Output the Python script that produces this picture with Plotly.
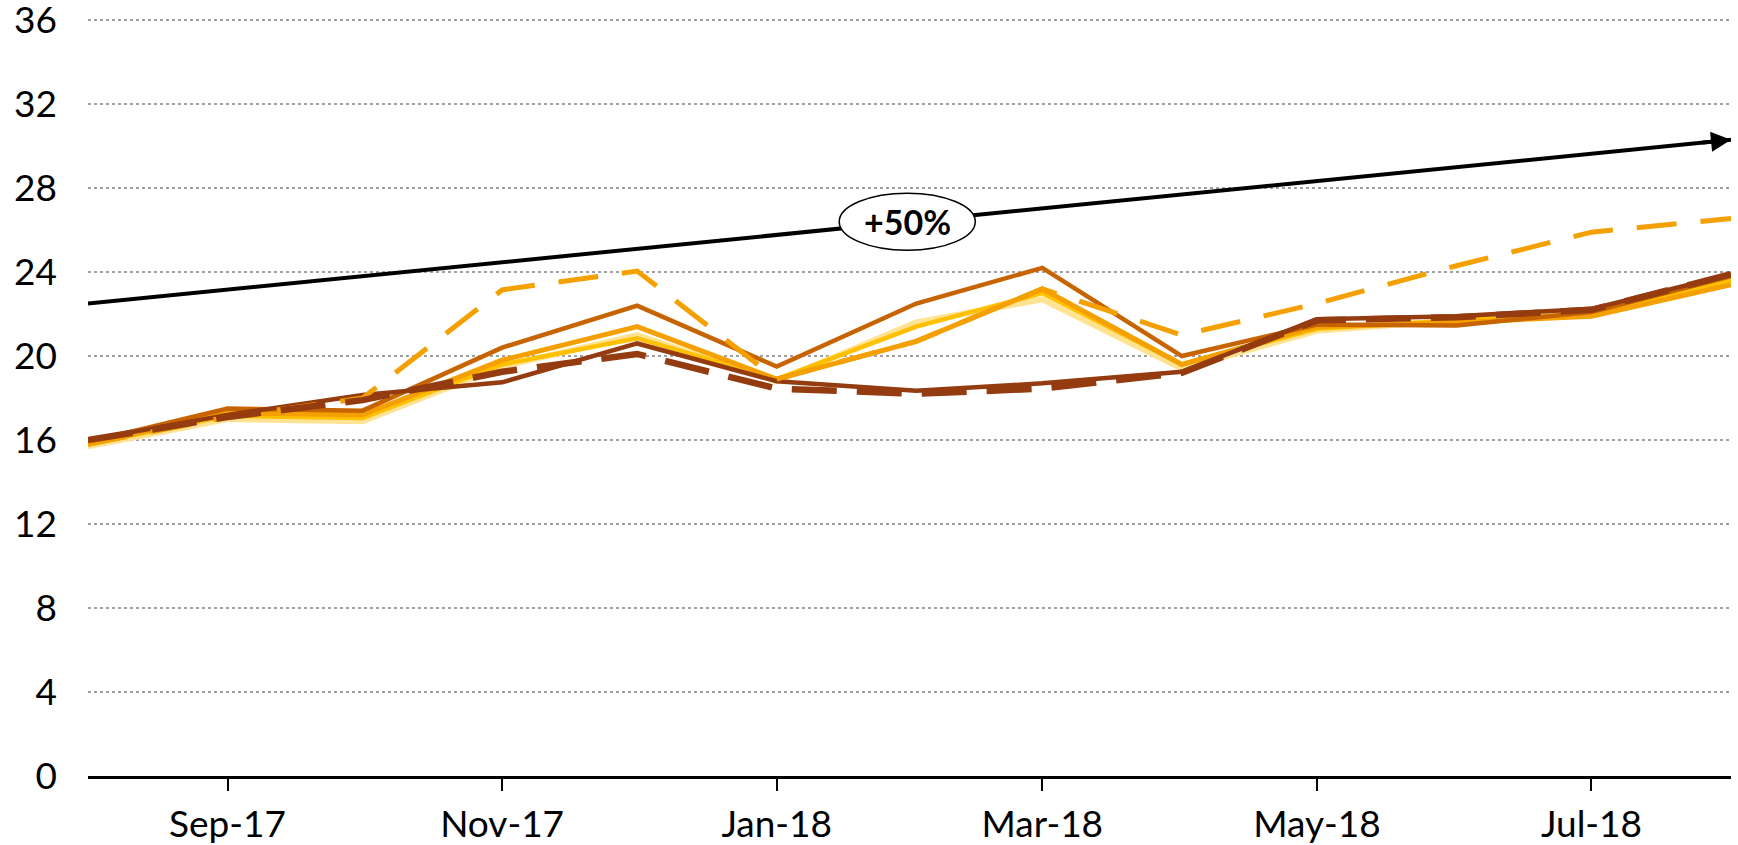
import plotly.graph_objects as go

months = ["2017-08-01", "2017-09-01", "2017-10-01", "2017-11-01", "2017-12-01",
          "2018-01-01", "2018-02-01", "2018-03-01", "2018-04-01", "2018-05-01",
          "2018-06-01", "2018-07-01", "2018-08-01"]

pale_vals = [15.7, 17.0, 16.9, 19.5, 21.0, 18.8, 21.6, 22.7, 19.4, 21.2, 21.7, 22.0, 23.6]
yellow_vals = [15.8, 17.15, 17.05, 19.6, 20.85, 18.9, 21.4, 23.0, 19.6, 21.3, 21.7, 22.0, 23.6]
orange_vals = [15.8, 17.3, 17.2, 19.8, 21.4, 18.9, 20.7, 23.2, 19.6, 21.4, 21.6, 21.9, 23.4]
darkorange_vals = [15.9, 17.5, 17.4, 20.4, 22.4, 19.5, 22.5, 24.2, 20.0, 21.5, 21.45, 22.1, 23.8]
brown_vals = [16.0, 17.2, 18.15, 18.75, 20.6, 18.8, 18.35, 18.7, 19.25, 21.75, 21.9, 22.25, 23.9]
orange_dash_vals = [15.8, 17.1, 18.0, 23.15, 24.05, 18.9, 20.7, 23.2, 21.0, 22.5, 24.3, 25.9, 26.55]
brown_dash_vals = [16.0, 17.1, 17.9, 19.25, 20.1, 18.45, 18.2, 18.45, 19.2, 21.7, 21.85, 22.2, 23.9]

trend_dates = ["2017-08-01", "2018-08-01"]
trend_vals = [22.5, 30.3]
label_date = "2018-01-30"
label_val = 26.4
label_text = "+50%"

x_tickvals = ["2017-09-01", "2017-11-01", "2018-01-01", "2018-03-01", "2018-05-01", "2018-07-01"]
x_ticktext = ["Sep-17", "Nov-17", "Jan-18", "Mar-18", "May-18", "Jul-18"]
y_tickvals = [0, 4, 8, 12, 16, 20, 24, 28, 32, 36]

FONT = "Lato"

series = [
    (pale_vals, "#FFE393", 6, "solid"),
    (yellow_vals, "#FFC000", 4.5, "solid"),
    (orange_vals, "#F4A000", 5, "solid"),
    (darkorange_vals, "#C86400", 4.5, "solid"),
    (brown_vals, "#943B10", 4.5, "solid"),
    (orange_dash_vals, "#F4A000", 5, "40px,24px"),
    (brown_dash_vals, "#943B10", 6.5, "45px,20px"),
]

fig = go.Figure()
for vals, color, w, dash in series:
    fig.add_trace(go.Scatter(x=months, y=vals, mode="lines",
                             line=dict(color=color, width=w, dash=dash),
                             hoverinfo="skip", showlegend=False))

fig.add_trace(go.Scatter(x=trend_dates, y=trend_vals, mode="lines",
                         line=dict(color="black", width=4),
                         hoverinfo="skip", showlegend=False))

# arrowhead at trend end
fig.add_annotation(x=trend_dates[1], y=trend_vals[1], xref="x", yref="y",
                   ax=-30, ay=3, showarrow=True, arrowhead=2, arrowsize=1,
                   arrowwidth=4, arrowcolor="black", text="", standoff=0)

# ellipse label
fig.add_shape(type="circle", xref="x", yref="y", xsizemode="pixel", ysizemode="pixel",
              xanchor=label_date, yanchor=label_val, x0=-68, x1=68, y0=-28.5, y1=28.5,
              fillcolor="white", line=dict(color="black", width=1.5), layer="above")
fig.add_annotation(x=label_date, y=label_val, xref="x", yref="y", showarrow=False,
                   text="<b>" + label_text + "</b>",
                   font=dict(family=FONT, size=34, color="black"))

fig.update_layout(
    width=1738, height=845,
    margin=dict(l=88, r=7, t=18, b=69),
    plot_bgcolor="white", paper_bgcolor="white",
    font=dict(family=FONT, size=37, color="black"),
    showlegend=False,
)
fig.update_xaxes(range=["2017-08-01", "2018-08-01"], type="date",
                 tickvals=x_tickvals, ticktext=x_ticktext,
                 showline=True, linecolor="black", linewidth=3,
                 ticks="outside", ticklen=12, tickwidth=1.5, tickcolor="black",
                 ticklabelstandoff=2, showgrid=False, zeroline=False, automargin=False,
                 ticklabeloverflow="allow")
fig.update_yaxes(range=[0, 36.1], tickvals=y_tickvals,
                 showgrid=True, gridcolor="#A0A0A0", gridwidth=1.5, griddash="dot",
                 zeroline=False, showline=False, ticks="", ticklabelstandoff=30,
                 automargin=False, ticklabeloverflow="allow")

fig.write_html("out.html", config={"displayModeBar": False},
               post_script="document.body.style.margin='0';document.body.style.overflow='hidden';")
